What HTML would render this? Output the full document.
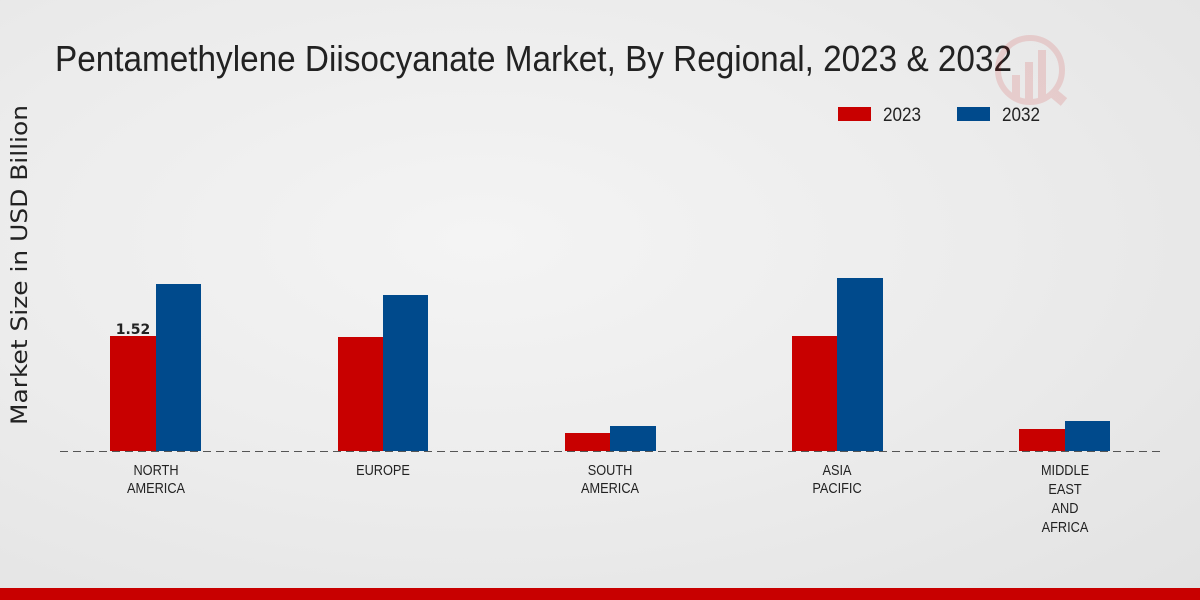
<!DOCTYPE html>
<html><head><meta charset="utf-8"><style>
html,body{margin:0;padding:0;width:1200px;height:600px;overflow:hidden}
body{background:radial-gradient(ellipse at 40% 40%,#f4f4f4 0%,#ececec 50%,#e2e2e2 100%);font-family:"Liberation Sans",sans-serif}
</style></head><body>
<svg width="1200" height="600" xmlns="http://www.w3.org/2000/svg" style="position:absolute;left:0;top:0">
<text x="55" y="71" font-size="36" fill="#222" textLength="957" lengthAdjust="spacingAndGlyphs" font-family="Liberation Sans Narrow, Liberation Sans, sans-serif">Pentamethylene Diisocyanate Market, By Regional, 2023 &amp; 2032</text>
<g opacity="0.12" fill="#c00">
<circle cx="1030" cy="70" r="32" fill="none" stroke="#c00" stroke-width="6"/>
<rect x="1012" y="75" width="8" height="25"/><rect x="1025" y="62" width="8" height="38"/><rect x="1038" y="50" width="8" height="50"/>
<line x1="1052" y1="92" x2="1064" y2="102" stroke="#c00" stroke-width="10"/>
</g>
<rect x="838" y="107" width="33" height="14" fill="#c80000"/>
<text transform="translate(883,121) scale(0.9,1)" font-size="19" fill="#222">2023</text>
<rect x="957" y="107" width="33" height="14" fill="#004a8c"/>
<text transform="translate(1002,121) scale(0.9,1)" font-size="19" fill="#222">2032</text>
<text transform="translate(27,265) rotate(-90)" text-anchor="middle" font-size="22" fill="#222" textLength="320" lengthAdjust="spacingAndGlyphs" font-family="DejaVu Sans, sans-serif">Market Size in USD Billion</text>
<g>
<rect x="110" y="336" width="46" height="115" fill="#c80000"/><rect x="156" y="284" width="45" height="167" fill="#004a8c"/>
<rect x="338" y="337" width="45" height="114" fill="#c80000"/><rect x="383" y="295" width="45" height="156" fill="#004a8c"/>
<rect x="565" y="433" width="45" height="18" fill="#c80000"/><rect x="610" y="426" width="46" height="25" fill="#004a8c"/>
<rect x="792" y="336" width="45" height="115" fill="#c80000"/><rect x="837" y="278" width="46" height="173" fill="#004a8c"/>
<rect x="1019" y="429" width="46" height="22" fill="#c80000"/><rect x="1065" y="421" width="45" height="30" fill="#004a8c"/>
</g>
<text x="133" y="334" text-anchor="middle" font-size="14" font-weight="bold" fill="#222" font-family="DejaVu Sans, sans-serif">1.52</text>
<line x1="60" y1="451.5" x2="1160" y2="451.5" stroke="#555" stroke-dasharray="8,5" stroke-width="1"/>
<g font-size="15" fill="#222" text-anchor="middle">
<text transform="translate(156,475) scale(0.85,1)">NORTH</text><text transform="translate(156,493) scale(0.85,1)">AMERICA</text>
<text transform="translate(383,475) scale(0.85,1)">EUROPE</text>
<text transform="translate(610,475) scale(0.85,1)">SOUTH</text><text transform="translate(610,493) scale(0.85,1)">AMERICA</text>
<text transform="translate(837,475) scale(0.85,1)">ASIA</text><text transform="translate(837,493) scale(0.85,1)">PACIFIC</text>
<text transform="translate(1065,475) scale(0.85,1)">MIDDLE</text><text transform="translate(1065,494) scale(0.85,1)">EAST</text><text transform="translate(1065,513) scale(0.85,1)">AND</text><text transform="translate(1065,532) scale(0.85,1)">AFRICA</text>
</g>
<rect x="0" y="588" width="1200" height="12" fill="#c80000"/>
</svg>
</body></html>
